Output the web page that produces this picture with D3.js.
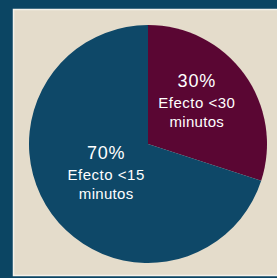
<!DOCTYPE html>
<html>
<head>
<meta charset="utf-8">
<script src="https://cdn.jsdelivr.net/npm/d3@7"></script>
<style>
  html, body { margin: 0; padding: 0; background: #0b4563; }
  svg { display: block; }
</style>
</head>
<body>
<svg width="277" height="278"></svg>
<script>
var categories = ['Efecto <30 minutos', 'Efecto <15 minutos'];
var values = [30, 70];
var pctLabels = ['30%', '70%'];
var lineOne = ['Efecto <30', 'Efecto <15'];
var lineTwo = ['minutos', 'minutos'];
var colors = ['#5a0633', '#0e4868'];

var svg = d3.select('svg');

// beige panel with thin light edge
svg.append('rect')
    .attr('x', 13.5).attr('y', 9.5)
    .attr('width', 270).attr('height', 266)
    .attr('fill', '#e4dccb')
    .attr('stroke', '#f4f1ea')
    .attr('stroke-width', 1.5);

var cx = 148, cy = 144, r = 119;

var pie = d3.pie().sort(null)(values);
var arc = d3.arc().innerRadius(0).outerRadius(r);

var g = svg.append('g')
    .attr('transform', 'translate(' + cx + ',' + cy + ')');

g.selectAll('path')
    .data(pie)
    .enter().append('path')
    .attr('d', arc)
    .attr('fill', function (d, i) { return colors[i]; });

var labelPos = d3.arc().innerRadius(r * 0.58).outerRadius(r * 0.58);
var offsets = [[-7, -16], [14, -26]];

var labels = g.selectAll('.lbl')
    .data(pie)
    .enter().append('text')
    .attr('class', 'lbl')
    .attr('text-anchor', 'middle')
    .attr('fill', '#ffffff')
    .attr('font-family', 'Liberation Sans, Arial, sans-serif')
    .attr('transform', function (d, i) {
        var c = labelPos.centroid(d);
        return 'translate(' + (c[0] + offsets[i][0]) + ',' + (c[1] + offsets[i][1]) + ')';
    });

labels.append('tspan')
    .attr('x', 0).attr('y', 0)
    .attr('font-size', 18)
    .attr('letter-spacing', 0.8)
    .text(function (d, i) { return pctLabels[i]; });
labels.append('tspan')
    .attr('x', 0).attr('y', 21)
    .attr('font-size', 15)
    .attr('letter-spacing', 0.5)
    .text(function (d, i) { return lineOne[i]; });
labels.append('tspan')
    .attr('x', 0).attr('y', 40)
    .attr('font-size', 15)
    .attr('letter-spacing', 0.3)
    .text(function (d, i) { return lineTwo[i]; });
</script>
</body>
</html>
